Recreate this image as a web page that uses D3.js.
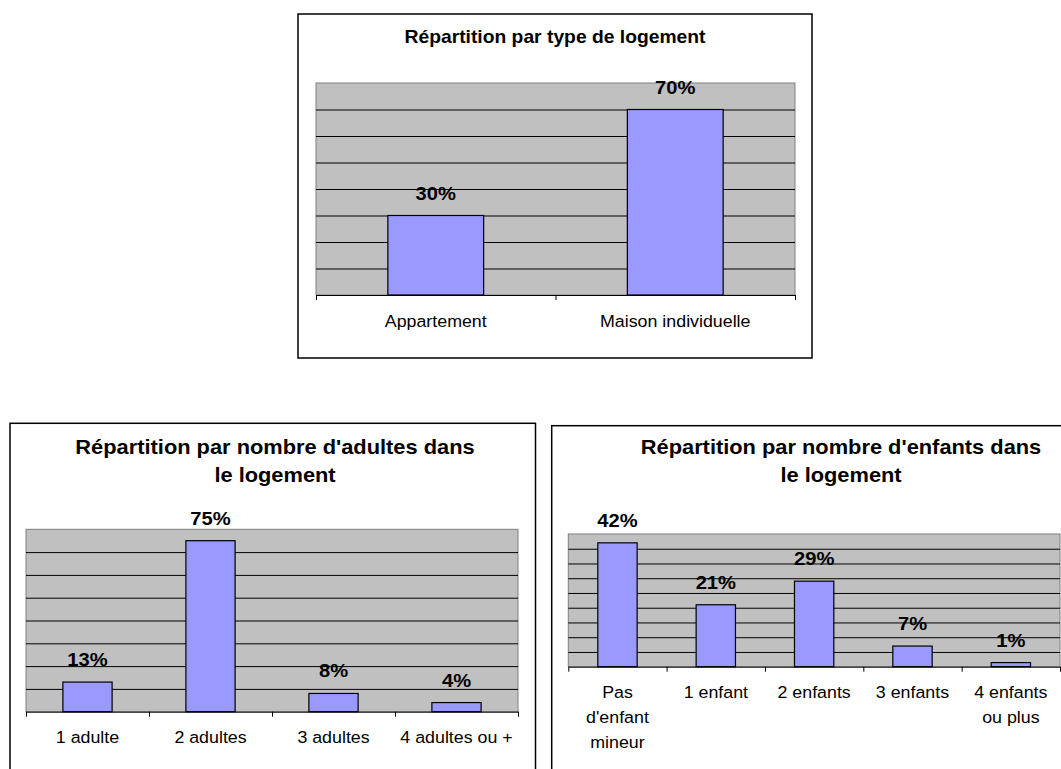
<!DOCTYPE html>
<html><head><meta charset="utf-8">
<script src="https://cdn.jsdelivr.net/npm/d3@7"></script>
<style>body{margin:0;background:#fff}svg{display:block}</style>
</head><body>
<svg id="c" width="1061" height="769"></svg>
<script>
// ---------- DATA ----------
const logementTitle = ["Répartition par type de logement"];
const logementCategories = ["Appartement", "Maison individuelle"];
const logementValues = [0.30, 0.70];
const logementTicks = [0, 0.1, 0.2, 0.3, 0.4, 0.5, 0.6, 0.7, 0.8];

const adultesTitle = ["Répartition par nombre d'adultes dans", "le logement"];
const adultesCategories = ["1 adulte", "2 adultes", "3 adultes", "4 adultes ou +"];
const adultesValues = [0.13, 0.75, 0.08, 0.04];
const adultesTicks = [0, 0.1, 0.2, 0.3, 0.4, 0.5, 0.6, 0.7, 0.8];

const enfantsTitle = ["Répartition par nombre d'enfants dans", "le logement"];
const enfantsCategories = ["Pas d'enfant mineur", "1 enfant", "2 enfants", "3 enfants", "4 enfants ou plus"];
const enfantsValues = [0.42, 0.21, 0.29, 0.07, 0.014];
const enfantsTicks = [0, 0.05, 0.1, 0.15, 0.2, 0.25, 0.3, 0.35, 0.4, 0.45];

// ---------- LAYOUT ----------
const FONT = "'Liberation Sans', Arial, Helvetica, sans-serif";
const charts = [
  { title: logementTitle, cats: logementCategories, vals: logementValues, ticks: logementTicks,
    frame: {x: 298, y: 14, w: 514, h: 344},
    plot: {x: 316, y: 83, w: 479, h: 212},
    titleX: 555, titleY: [43.3], titleSize: 17.7, titleSx: 1.09 },
  { title: adultesTitle, cats: adultesCategories, vals: adultesValues, ticks: adultesTicks,
    frame: {x: 10, y: 423.3, w: 525.5, h: 420},
    plot: {x: 26, y: 529.3, w: 492, h: 182.4},
    titleX: 275, titleY: [454, 481.7], titleSize: 19.5, titleSx: 1.12 },
  { title: enfantsTitle, cats: enfantsCategories, vals: enfantsValues, ticks: enfantsTicks,
    frame: {x: 551.7, y: 425.7, w: 620, h: 420},
    plot: {x: 568.3, y: 534, w: 491.7, h: 132.7},
    titleX: 841, titleY: [454, 482], titleSize: 19.5, titleSx: 1.12 }
];

const svg = d3.select("#c");
const fmt = d3.format(".0%");
const VAL_SIZE = 18.5, VAL_SX = 1.09, CAT_SIZE = 16.5, CAT_SX = 1.08;

function stretchedText(g, str, x, y, size, sx, bold) {
  return g.append("text")
    .attr("transform", `translate(${x},${y}) scale(${sx},1)`)
    .attr("text-anchor", "middle")
    .attr("font-family", FONT)
    .attr("font-size", size)
    .attr("font-weight", bold ? "bold" : "normal")
    .attr("fill", "#000")
    .text(str);
}

const measurer = svg.append("text").attr("font-family", FONT).attr("font-size", CAT_SIZE).attr("visibility", "hidden");
function measure(s) { measurer.text(s); return measurer.node().getComputedTextLength() * CAT_SX; }
function wrap(s, maxW) {
  const words = s.split(" ");
  const lines = [];
  let cur = "";
  words.forEach(w => {
    const t = cur ? cur + " " + w : w;
    if (cur && measure(t) > maxW) { lines.push(cur); cur = w; } else { cur = t; }
  });
  if (cur) lines.push(cur);
  return lines;
}

charts.forEach(c => {
  const g = svg.append("g");
  const p = c.plot;
  const n = c.cats.length;
  const y = d3.scaleLinear().domain([0, c.ticks[c.ticks.length - 1]]).range([p.y + p.h, p.y]);
  const x = d3.scaleBand().domain(c.cats).range([p.x, p.x + p.w]).paddingInner(0.6).paddingOuter(0.3);
  const xi = d3.scaleLinear().domain([0, n]).range([p.x, p.x + p.w]);

  // frame
  g.append("rect").attr("x", c.frame.x).attr("y", c.frame.y).attr("width", c.frame.w).attr("height", c.frame.h)
    .attr("fill", "#fff").attr("stroke", "#000").attr("stroke-width", 1.5);

  // title
  c.title.forEach((line, i) => stretchedText(g, line, c.titleX, c.titleY[i], c.titleSize, c.titleSx, true));

  // plot area
  g.append("rect").attr("x", p.x).attr("y", p.y).attr("width", p.w).attr("height", p.h)
    .attr("fill", "#C0C0C0").attr("stroke", "#808080").attr("stroke-width", 1);

  // gridlines
  const grid = g.append("g").attr("transform", `translate(${p.x},0)`)
    .call(d3.axisLeft(y).tickValues(c.ticks.slice(1, -1)).tickSize(-p.w).tickFormat(""));
  grid.select(".domain").remove();
  grid.selectAll(".tick line").attr("stroke", "#000").attr("stroke-width", 1);

  // bars
  g.selectAll("rect.bar").data(c.vals).enter().append("rect").attr("class", "bar")
    .attr("x", (d, i) => x(c.cats[i]))
    .attr("y", d => y(d))
    .attr("width", x.bandwidth())
    .attr("height", d => y(0) - y(d))
    .attr("fill", "#9999FF").attr("stroke", "#000").attr("stroke-width", 1.2);

  // value labels
  c.vals.forEach((v, i) => stretchedText(g, fmt(v), x(c.cats[i]) + x.bandwidth() / 2, y(v) - 16, VAL_SIZE, VAL_SX, true));

  // x axis with boundary ticks
  const ax = g.append("g").attr("transform", `translate(0,${p.y + p.h})`)
    .call(d3.axisBottom(xi).tickValues(d3.range(n + 1)).tickSize(5).tickSizeOuter(0).tickFormat(""));
  ax.select(".domain").attr("stroke", "#000").attr("stroke-width", 1);
  ax.selectAll(".tick line").attr("stroke", "#000");

  // category labels
  const step = x.step();
  c.cats.forEach((cat, i) => {
    const lines = wrap(cat, step * 0.97);
    lines.forEach((ln, j) => stretchedText(g, ln, x(cat) + x.bandwidth() / 2, p.y + p.h + 31.5 + j * 25, CAT_SIZE, CAT_SX, false));
  });
});
measurer.remove();
</script>
</body></html>
